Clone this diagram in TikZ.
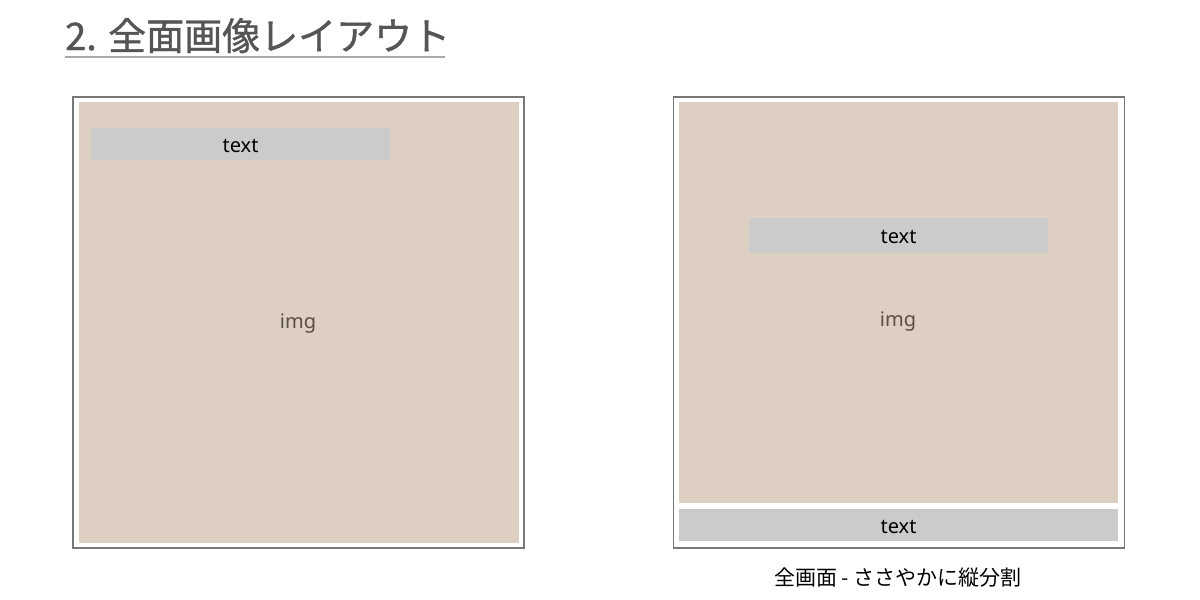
\documentclass[tikz,border=0pt]{standalone}
\usepackage{fontspec}
\setmainfont{Noto Sans}
\newfontfamily\jpfont{Noto Sans CJK JP}
\newfontfamily\jptitlefont[FakeBold=1]{Noto Sans CJK JP}
\usetikzlibrary{positioning}
\definecolor{imgbg}{HTML}{DDD0C2}
\definecolor{barbg}{HTML}{CBCBCB}
\definecolor{framegray}{HTML}{777777}
\definecolor{titlegray}{HTML}{555555}
\definecolor{rulegray}{HTML}{AAAAAA}
\definecolor{imgtext}{HTML}{5A4F48}
\tikzset{
  frame/.style={draw=framegray, line width=1.5pt, fill=white, inner sep=0pt,
    minimum width=451pt, minimum height=451pt},
  imgarea/.style={fill=imgbg, inner sep=0pt},
  textbar/.style={fill=barbg, inner sep=0pt, text=black, text height=16pt,
    text depth=0pt, font=\fontsize{20}{24}\selectfont},
  imglabel/.style={text=imgtext, font=\fontsize{20}{24}\selectfont},
}
\begin{document}
\begin{tikzpicture}[x=1pt, y=-1pt]
      \useasboundingbox (0, 0) rectangle (1200, 600);
      % title
      \node[anchor=base west, inner sep=0pt, text=titlegray,
        font=\jptitlefont\fontsize{38}{44}\selectfont] (title) at (65, 50) {2. 全面画像レイアウト};
      \coordinate (ruleL) at (65, 57);
      \coordinate (ruleR) at (445, 57);
      \draw[rulegray, line width=2pt] (ruleL) -- (ruleR);
      % left layout
      \node[frame] (frameL) at (298.5, 322.5) {};
      \node[imgarea, minimum width=440pt, minimum height=441pt] (imgL) at (299, 322.5) {};
      \node[textbar, minimum width=299pt, minimum height=32pt] (barL) at (240.5, 144) {text};
      \node[imglabel] (imgtxtL) at (298, 324) {img};
      % right layout
      \node[frame] (frameR) at (899, 322.5) {};
      \node[imgarea, minimum width=439pt, minimum height=401pt] (imgR) at (898.5, 302.5) {};
      \node[textbar, minimum width=299pt, minimum height=35pt] (barR) at (898.5, 235.5) {text};
      \node[imglabel] (imgtxtR) at (898, 322) {img};
      \node[textbar, minimum width=439pt, minimum height=32pt] (barB) at (898.5, 525) {text};
      \node[font=\jpfont\fontsize{21}{25}\selectfont] (caption) at (898, 578) {全画面 - ささやかに縦分割};
    \end{tikzpicture}
\end{document}
